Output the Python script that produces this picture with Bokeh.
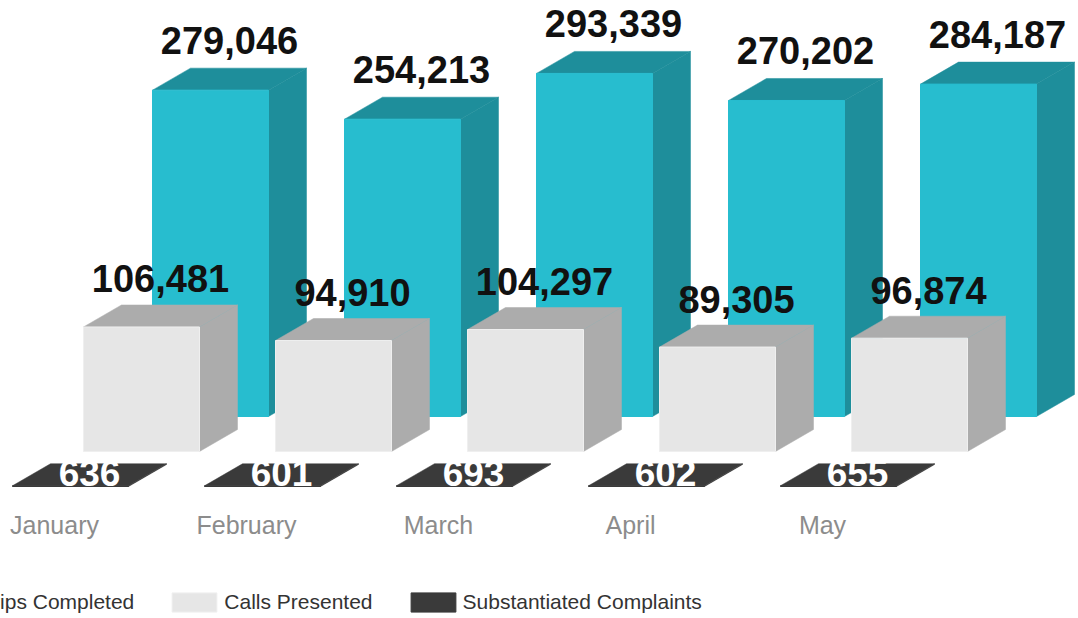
from bokeh.plotting import figure
from bokeh.models import Range1d, FixedTicker, Legend, LegendItem
from bokeh.core.properties import value
from bokeh.embed import file_html
from bokeh.resources import INLINE

months = ["January", "February", "March", "April", "May"]
trips = [279046, 254213, 293339, 270202, 284187]
calls = [106481, 94910, 104297, 89305, 96874]
complaints = [636, 601, 693, 602, 655]

W, H = 1078, 618
BASE_PX = 486
PX_X = 192.0          # px per category
PX_Y = 855.0          # value units per px
LEFT = 12.0

p = figure(width=W, height=H, output_backend="svg", toolbar_location=None,
           x_range=Range1d(-LEFT / PX_X, (W - LEFT) / PX_X),
           y_range=Range1d(-(H - BASE_PX) * PX_Y, BASE_PX * PX_Y),
           min_border_left=0, min_border_right=0, min_border_top=0,
           min_border_bottom=0, outline_line_color=None,
           background_fill_color="white", border_fill_color="white")
p.grid.visible = False
p.yaxis.visible = False

bar_w = 116 / PX_X
dx = 38 / PX_X
dy = 22 * PX_Y


def series(vals, off_px, base_px, front, dark, edge):
    xs = [i + off_px / PX_X for i in range(len(vals))]
    base = base_px * PX_Y
    side_x = [[x + bar_w, x + bar_w + dx, x + bar_w + dx, x + bar_w] for x in xs]
    side_y = [[base, base + dy, base + v + dy, base + v] for v in vals]
    top_x = [[x, x + dx, x + bar_w + dx, x + bar_w] for x in xs]
    top_y = [[base + v, base + v + dy, base + v + dy, base + v] for v in vals]
    p.patches(side_x, side_y, fill_color=dark, line_color=dark, line_width=0.5)
    p.patches(top_x, top_y, fill_color=dark, line_color=dark, line_width=0.5)
    r = p.quad(left=xs, right=[x + bar_w for x in xs], bottom=[base] * len(vals),
               top=[base + v for v in vals], fill_color=front, line_color=edge, line_width=1)
    return xs, base, r


x_t, b_t, r_t = series(trips, 140, 70, "#27BDCF", "#1E8E9B", "#27BDCF")
x_c, b_c, r_c = series(calls, 71, 35, "#E6E6E6", "#ACACAC", "#EFEFEF")
x_d, b_d, r_d = series(complaints, 0, 0, "#3A3A3A", "#3A3A3A", "#3A3A3A")


def labels(xs, base, vals, color, size, off, add_depth=True):
    p.text([x + bar_w / 2 + dx / 2 for x in xs],
           [base + v + (dy if add_depth else 0) for v in vals],
           text=[f"{v:,}" for v in vals], text_color=color,
           text_font=value("Liberation Sans"), text_font_style="bold",
           text_font_size=size, text_align="center", text_baseline="alphabetic",
           y_offset=off)


labels(x_t, b_t, trips, "#111111", "38px", -28)
labels(x_c, b_c, calls, "#111111", "38px", -26)
labels(x_d, b_d, complaints, "#FFFFFF", "37px", -13, add_depth=False)

ax = p.xaxis[0]
ax.fixed_location = -16 * PX_Y
ax.ticker = FixedTicker(ticks=[i + 42 / PX_X for i in range(len(months))])
ax.major_label_overrides = {i + 42 / PX_X: m for i, m in enumerate(months)}
ax.axis_line_color = None
ax.major_tick_line_color = None
ax.minor_tick_line_color = None
ax.major_label_text_color = "#8C8C8C"
ax.major_label_text_font = "Liberation Sans"
ax.major_label_text_font_size = "25px"
ax.major_label_standoff = 2

legend = Legend(items=[LegendItem(label="Trips Completed", renderers=[r_t]),
                       LegendItem(label="Calls Presented", renderers=[r_c]),
                       LegendItem(label="Substantiated Complaints", renderers=[r_d])],
                orientation="horizontal", location=(-77, 4),
                glyph_width=56, glyph_height=24, label_standoff=2, spacing=32,
                padding=0, margin=0, border_line_color=None, background_fill_alpha=0,
                label_text_font="Liberation Sans", label_text_font_size="21px",
                label_text_color="#333333", label_height=24)
p.add_layout(legend, "center")

open("out.html", "w").write(file_html(p, INLINE))
